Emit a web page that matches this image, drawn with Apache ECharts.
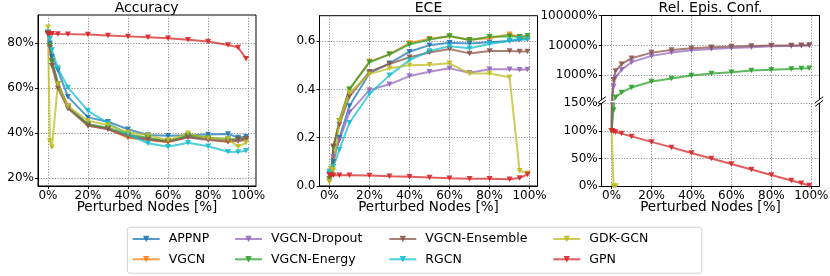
<!DOCTYPE html>
<html><head><meta charset="utf-8">
<script src="https://cdn.jsdelivr.net/npm/echarts@6/dist/echarts.min.js"></script>
<style>html,body{margin:0;padding:0;background:#fff}#c{width:830px;height:276px}</style>
</head><body><div id="c"></div>
<script>
// ---- data ----
const X = [0, 1, 2, 5, 10, 20, 30, 40, 50, 60, 70, 80, 90, 95, 99];
const MODELS = ['APPNP', 'VGCN', 'VGCN-Dropout', 'VGCN-Energy', 'VGCN-Ensemble', 'RGCN', 'GDK-GCN', 'GPN'];
const COLORS = ['#1f77b4', '#ff7f0e', '#9467bd', '#2ca02c', '#8c564b', '#17becf', '#bcbd22', '#d62728'];

const accAPPNP    = [84.5, 80, 74, 68, 56.3, 47.1, 45.2, 41.8, 39.3, 38.9, 39.2, 39.5, 39.7, 38.2, 38.5];
const accVGCN     = [84.5, 79, 72, 62, 52, 43.5, 42, 38, 37, 36, 38.5, 37.5, 36.3, 36.5, 37];
const accDropout  = [84, 79, 72, 62, 52, 44, 42, 39, 37.5, 36.5, 38.5, 37.5, 37, 36.5, 37.5];
const accEnergy   = [84.5, 79, 72, 62, 51.5, 44, 42.5, 39.5, 38, 36.5, 39, 38, 37.5, 37.3, 37.5];
const accEnsemble = [84, 78, 70, 60, 51, 43.4, 41.8, 38.5, 37.2, 36.3, 38.2, 37, 36.3, 37.3, 37.6];
const accRGCN     = [85, 82, 77, 69, 60.4, 50, 44.5, 39.5, 35.6, 34, 35.8, 34.3, 31.8, 31.7, 32.3];
const accGDK      = [87.2, 36.6, 33.8, 61.9, 52.1, 45.6, 43.7, 40.5, 39.2, 37, 40, 37.8, 37.5, 34.1, 35.9];
const accGPN      = [84.5, 84.3, 84.3, 84.2, 84.1, 83.9, 83.5, 83.1, 82.7, 82.3, 81.6, 80.8, 79.3, 78.2, 73.2];

const eceAPPNP    = [0.05, 0.06, 0.10, 0.20, 0.331, 0.467, 0.508, 0.556, 0.583, 0.593, 0.59, 0.595, 0.60, 0.605, 0.607];
const eceVGCN     = [0.03, 0.07, 0.16, 0.27, 0.40, 0.515, 0.545, 0.592, 0.61, 0.62, 0.605, 0.612, 0.628, 0.617, 0.612];
const eceDropout  = [0.05, 0.06, 0.12, 0.19, 0.305, 0.397, 0.421, 0.455, 0.473, 0.487, 0.469, 0.483, 0.483, 0.481, 0.482];
const eceEnergy   = [0.03, 0.07, 0.16, 0.27, 0.401, 0.512, 0.545, 0.586, 0.606, 0.621, 0.604, 0.618, 0.62, 0.618, 0.622];
const eceEnsemble = [0.02, 0.05, 0.165, 0.255, 0.37, 0.473, 0.505, 0.533, 0.553, 0.567, 0.549, 0.559, 0.559, 0.557, 0.557];
const eceRGCN     = [0.06, 0.05, 0.08, 0.15, 0.262, 0.381, 0.458, 0.521, 0.559, 0.579, 0.57, 0.588, 0.601, 0.61, 0.607];
const eceGDK      = [0.018, 0.07, 0.065, 0.27, 0.386, 0.463, 0.487, 0.50, 0.502, 0.508, 0.466, 0.466, 0.45, 0.063, 0.053];
const eceGPN      = [0.045, 0.045, 0.045, 0.044, 0.044, 0.043, 0.040, 0.038, 0.035, 0.032, 0.030, 0.030, 0.028, 0.033, 0.048];

const NONE15 = [null, null, null, null, null, null, null, null, null, null, null, null, null, null, null];
const recAPPNP    = NONE15;
const recVGCN     = NONE15;
const recDropout  = [100, 417, 857, 1516, 2740, 4460, 5740, 6890, 7640, 8260, 8700, 9360, 9600, 9800, 9900];
const recEnergy   = [100, 138, 182, 262, 388, 616, 776, 978, 1138, 1262, 1432, 1510, 1630, 1670, 1720];
const recEnsemble = [100, 698, 1396, 2340, 3720, 5740, 7070, 8040, 8700, 9130, 9640, 9880, 10000, 10200, 10400];
const recRGCN     = NONE15;
const recGDK      = [100, 0, 0, null, null, null, null, null, null, null, null, null, null, null, null];
const recGPN      = [100, 99, 98, 95, 90, 80, 70, 60, 50, 40, 30, 20, 10, 5, 1];

const ACC = [accAPPNP, accVGCN, accDropout, accEnergy, accEnsemble, accRGCN, accGDK, accGPN];
const ECE = [eceAPPNP, eceVGCN, eceDropout, eceEnergy, eceEnsemble, eceRGCN, eceGDK, eceGPN];
const REC = [recAPPNP, recVGCN, recDropout, recEnergy, recEnsemble, recRGCN, recGDK, recGPN];

const X_TICKS = [0, 20, 40, 60, 80, 100];
const ACC_TICKS = [20, 40, 60, 80];
const ECE_TICKS = [0, 0.2, 0.4, 0.6];
const REC_LOG_TICKS = [1000, 10000, 100000];
const REC_LIN_TICKS = [0, 50, 100, 150];
const TITLES = ['Accuracy', 'ECE', 'Rel. Epis. Conf.'];
const XLABEL = 'Perturbed Nodes [%]';

// ---- styling ----
const FONT = 'DejaVu Sans';
const split = {show: true, lineStyle: {color: '#808080', type: [1.2, 1.6], width: 0.9}};
const tick = {show: true, length: 3, lineStyle: {color: '#000', width: 0.9}};
const line = {show: true, onZero: false, lineStyle: {color: '#000', width: 1}};
const lbl = {color: '#000', fontFamily: FONT, fontSize: 12};
const TRI = 'path://M0,0L10,0L5,9Z';

function xAx(grid, showLabels, pos) {
  return {
    gridIndex: grid, type: 'value', min: -4.95, max: 103.95, position: pos || 'bottom',
    axisLine: line, splitLine: Object.assign({}, split),
    axisTick: Object.assign({}, tick, {show: showLabels, customValues: X_TICKS}),
    axisLabel: Object.assign({}, lbl, {show: showLabels, margin: 4, customValues: X_TICKS, formatter: v => v + '%'}),
    name: showLabels ? XLABEL : '', nameLocation: 'middle', nameGap: 14, nameMoveOverlap: false,
    nameTextStyle: {color: '#000', fontFamily: FONT, fontSize: 13.5}
  };
}

const grids = [
  {left: 38, top: 15, width: 218, height: 171},
  {left: 319.5, top: 15.7, width: 218, height: 170.3},
  {left: 601.7, top: 15.7, width: 217.5, height: 84},
  {left: 601.7, top: 103.3, width: 217.5, height: 82.7}
].map((g, i) => Object.assign({show: i < 2, borderColor: '#000', borderWidth: 1, backgroundColor: 'transparent', outerBoundsMode: 'none', containLabel: false}, g));

const xAxis = [xAx(0, true), xAx(1, true), xAx(2, false, 'top'), xAx(3, true)];

const yAxis = [
  {gridIndex: 0, type: 'value', min: 16.6, max: 92.6, axisLine: line, splitLine: split,
   axisTick: Object.assign({}, tick, {customValues: ACC_TICKS}),
   axisLabel: Object.assign({}, lbl, {margin: 4, customValues: ACC_TICKS, formatter: v => v + '%'})},
  {gridIndex: 1, type: 'value', min: 0, max: 0.705, axisLine: line, splitLine: split,
   axisTick: Object.assign({}, tick, {customValues: ECE_TICKS}),
   axisLabel: Object.assign({}, lbl, {margin: 4, customValues: ECE_TICKS, formatter: v => v.toFixed(1)})},
  {gridIndex: 2, type: 'log', logBase: 10, min: 150, max: 100000, axisLine: line, splitLine: split,
   axisTick: Object.assign({}, tick, {customValues: REC_LOG_TICKS}),
   axisLabel: Object.assign({}, lbl, {margin: 4, customValues: REC_LOG_TICKS, formatter: v => Math.round(v) + '%'})},
  {gridIndex: 3, type: 'value', min: 0, max: 150, axisLine: line, splitLine: split,
   axisTick: Object.assign({}, tick, {customValues: REC_LIN_TICKS}),
   axisLabel: Object.assign({}, lbl, {margin: 4, customValues: REC_LIN_TICKS, formatter: v => v + '%'})},
  {gridIndex: 2, type: 'value', position: 'right', min: 0, max: 1, axisLine: line, axisTick: {show: false}, axisLabel: {show: false}, splitLine: {show: false}},
  {gridIndex: 3, type: 'value', position: 'right', min: 0, max: 1, axisLine: line, axisTick: {show: false}, axisLabel: {show: false}, splitLine: {show: false}}
];

const series = [];
function addSeries(i, vals, axisIdx) {
  series.push({
    name: MODELS[i], type: 'line', xAxisIndex: axisIdx, yAxisIndex: axisIdx,
    data: X.map((x, k) => [x, vals[k]]), connectNulls: false, clip: true,
    symbol: TRI, symbolSize: [6, 5.5], showSymbol: true,
    color: COLORS[i],
    lineStyle: {color: COLORS[i], width: 2, opacity: 0.75},
    itemStyle: {color: COLORS[i], opacity: 0.9},
    emphasis: {disabled: true}, animation: false, z: 2
  });
}
MODELS.forEach((m, i) => {
  addSeries(i, ACC[i], 0);
  addSeries(i, ECE[i], 1);
  if (REC[i].some(v => v != null && v > 150)) addSeries(i, REC[i], 2);
  if (REC[i].some(v => v != null)) addSeries(i, REC[i], 3);
});

const legendCols = [[0, 1], [2, 3], [4, 5], [6, 7]];
const legendLeft = [131.7, 234, 388.3, 552.3];
const legend = legendCols.map((c, j) => ({
  data: c.map(i => MODELS[i]), orient: 'vertical', left: legendLeft[j], top: 232, padding: 0,
  itemWidth: 27, itemHeight: 8, itemGap: 6.3, selectedMode: false,
  textStyle: {color: '#000', fontFamily: FONT, fontSize: 12.5, lineHeight: 14, padding: [0, 0, 0, 4]}
}));

const centers = [146.7, 428.5, 710.5];
const title = TITLES.map((t, i) => ({
  text: t, left: centers[i], textAlign: 'center', top: 1, padding: 0,
  textStyle: {color: '#000', fontFamily: FONT, fontSize: 14, fontWeight: 'normal'}
}));

function brk(x, y) {
  return {type: 'line', shape: {x1: x - 4, y1: y + 3, x2: x + 4, y2: y - 3}, style: {stroke: '#000', lineWidth: 1}, z: 10};
}
const graphic = [
  {type: 'rect', shape: {x: 127.3, y: 227.3, width: 574.5, height: 46, r: 3}, style: {fill: 'transparent', stroke: '#d0d0d0', lineWidth: 1}, z: 0},
  brk(601.7, 99.7), brk(819.2, 99.7), brk(601.7, 103.3), brk(819.2, 103.3)
];

const chart = echarts.init(document.getElementById('c'), null, {renderer: 'canvas'});
chart.setOption({
  animation: false, backgroundColor: '#fff',
  textStyle: {fontFamily: FONT},
  title, grid: grids, xAxis, yAxis, series, legend, graphic
});
</script></body></html>
